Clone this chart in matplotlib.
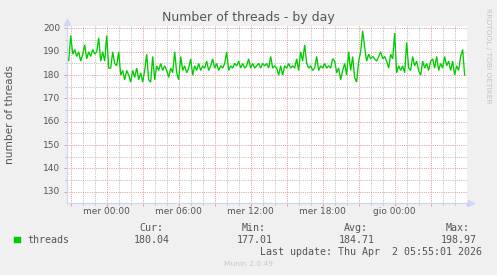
import numpy as np
import matplotlib
matplotlib.use("Agg")
import matplotlib.pyplot as plt
from matplotlib.ticker import MultipleLocator, NullFormatter
import matplotlib.transforms as mtrans

# ---- data (threads, 10-minute samples; hours relative to "mer 00:00") ----
start_hour = -3.333
step_hours = 1.0 / 6.0
threads = [
    188, 186, 197, 189, 191, 188, 190, 186, 189, 193,
    187, 190, 188, 191, 189, 190, 196, 186, 190, 186,
    197, 183, 183, 190, 185, 184, 190, 180, 182, 178,
    182, 180, 177, 182, 179, 183, 178, 181, 177, 182,
    189, 178, 177, 188, 178, 184, 182, 185, 182, 184,
    182, 179, 183, 181, 190, 181, 178, 188, 182, 184,
    181, 183, 187, 180, 184, 182, 185, 182, 184, 183,
    186, 182, 184, 187, 183, 185, 182, 184, 183, 185,
    190, 182, 184, 183, 185, 184, 186, 183, 185, 183,
    184, 187, 183, 185, 183, 184, 185, 183, 185, 184,
    185, 183, 188, 183, 184, 183, 180, 184, 180, 184,
    183, 185, 183, 184, 183, 187, 182, 190, 186, 193,
    185, 183, 184, 182, 183, 188, 182, 184, 183, 185,
    183, 184, 183, 187, 186, 181, 183, 178, 182, 185,
    180, 190, 182, 188, 179, 177, 186, 190, 199, 192,
    186, 189, 187, 188, 187, 186, 188, 190, 187, 188,
    186, 183, 189, 187, 198, 181, 184, 182, 184, 181,
    194, 183, 182, 188, 184, 186, 182, 180, 186, 183,
    185, 182, 186, 187, 183, 188, 182, 185, 183, 188,
    184, 186, 182, 186, 180, 184, 182, 188, 191, 180,
]
tick_hours = [0, 6, 12, 18, 24]
tick_labels = ["mer 00:00", "mer 06:00", "mer 12:00", "mer 18:00", "gio 00:00"]
legend_name = "threads"
stat_names = ["Cur:", "Min:", "Avg:", "Max:"]
stat_values = ["180.04", "177.01", "184.71", "198.97"]
last_update = "Last update: Thu Apr  2 05:55:01 2026"

hours = start_hour + step_hours * np.arange(len(threads))

W, H = 497, 275
BG = "#f0f0f0"
FONT = "#555555"
MGRID = "#ec9a9a"
GRID = "#bdbdbd"
AXIS = "#cfd6f8"
LINE = "#00cc00"

fig = plt.figure(figsize=(W / 100, H / 100), dpi=100, facecolor=BG)
x0, x1, ytop, ybot = 66.5, 467.0, 26.0, 203.0
ax = fig.add_axes([x0 / W, (H - ybot) / H, (x1 - x0) / W, (ybot - ytop) / H])
ax.set_facecolor("white")

ax.set_xlim(-3.35, 30.03)
ax.set_ylim(125.15, 201.07)

# grid
ax.xaxis.set_major_locator(MultipleLocator(3))
ax.xaxis.set_minor_locator(MultipleLocator(1))
ax.yaxis.set_major_locator(MultipleLocator(10))
ax.yaxis.set_minor_locator(MultipleLocator(5))
ax.grid(which="minor", color=GRID, linestyle=(0, (1, 1.2)), linewidth=0.72)
ax.grid(which="major", color=MGRID, linestyle=(0, (1, 1.2)), linewidth=0.72)
ax.set_axisbelow(True)

ax.xaxis.set_major_formatter(NullFormatter())
ax.yaxis.set_major_formatter(NullFormatter())
ax.tick_params(which="major", length=2.5, width=0.72, color=MGRID)
ax.tick_params(which="minor", length=1.2, width=0.72, color=GRID)

# y labels
for v in range(130, 201, 10):
    ax.annotate(str(v), xy=(0, v), xycoords=("axes fraction", "data"),
                xytext=(-6, 0), textcoords="offset pixels",
                ha="right", va="center", fontsize=6.5, color=FONT,
                family="DejaVu Sans")
# x labels
for h, lab in zip(tick_hours, tick_labels):
    ax.annotate(lab, xy=(h, 0), xycoords=("data", "axes fraction"),
                xytext=(0, -9), textcoords="offset pixels",
                ha="center", va="center", fontsize=6.5, color=FONT,
                family="DejaVu Sans")

for s in ["top", "right"]:
    ax.spines[s].set_visible(False)
for s in ["left", "bottom"]:
    ax.spines[s].set_color(AXIS)
    ax.spines[s].set_linewidth(0.9)

# arrows
tr_up = mtrans.offset_copy(ax.transAxes, fig=fig, x=0, y=4, units="dots")
ax.plot([0], [1], marker="^", markersize=5, color=AXIS, transform=tr_up, clip_on=False)
tr_rt = mtrans.offset_copy(ax.transAxes, fig=fig, x=4, y=0, units="dots")
ax.plot([1], [0], marker=">", markersize=5, color=AXIS, transform=tr_rt, clip_on=False)

ax.plot(hours, threads, color=LINE, linewidth=0.95, solid_joinstyle="miter")

# titles
fig.text(248 / W, 1 - 18 / H, "Number of threads - by day", ha="center", va="center",
         fontsize=9, color=FONT)
fig.text(10 / W, 1 - 114.5 / H, "number of threads", ha="center", va="center",
         rotation=90, fontsize=7.6, color=FONT)
fig.text(488 / W, 1 - 56 / H, "RRDTOOL / TOBI OETIKER", ha="center", va="center",
         rotation=270, fontsize=5.4, color="#c4c4c4")

# legend
mono = "DejaVu Sans Mono"
fig.patches.append(plt.Rectangle((14 / W, 1 - 243 / H), 6.5 / W, 6.5 / H,
                                 transform=fig.transFigure, facecolor=LINE,
                                 edgecolor=LINE, linewidth=0.3))
fig.text(27 / W, 1 - 240 / H, legend_name, ha="left", va="center", fontsize=7.2,
         family=mono, color=FONT)
name_right = [163, 266, 368, 470]
val_right = [170, 273, 375, 477]
for nm, vv, nr, vr in zip(stat_names, stat_values, name_right, val_right):
    fig.text(nr / W, 1 - 228 / H, nm, ha="right", va="center", fontsize=7.2,
             family=mono, color=FONT)
    fig.text(vr / W, 1 - 240 / H, vv, ha="right", va="center", fontsize=7.2,
             family=mono, color=FONT)
fig.text(482 / W, 1 - 252 / H, last_update, ha="right", va="center", fontsize=7.2,
         family=mono, color=FONT)
fig.text(248.5 / W, 1 - 264 / H, "Munin 2.0.49", ha="center", va="center",
         fontsize=5.4, color="#c8c8c8")

fig.savefig("out.png", dpi=100, facecolor=BG)
